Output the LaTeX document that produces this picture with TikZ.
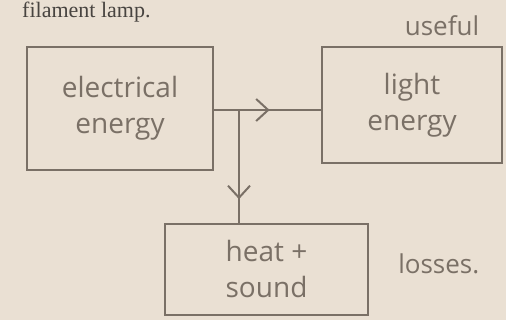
\documentclass[tikz,border=0pt]{standalone}
\usepackage{fontspec}
\setmainfont{Liberation Serif}
\newfontfamily\handfont{Open Sans}
\usepackage{xcolor}
\usetikzlibrary{arrows.meta,positioning,decorations.markings}

\definecolor{paper}{RGB}{234,224,211}
\definecolor{pencil}{RGB}{122,112,102}
\definecolor{print}{RGB}{72,68,64}

\begin{document}
\begin{tikzpicture}[
  x=1pt, y=-1pt,
  box/.style={
    draw=pencil, line width=2.2pt, inner sep=0pt, align=center,
    font=\fontsize{28}{36}\selectfont\handfont, text=pencil
  },
  note/.style={font=\fontsize{26}{36}\selectfont\handfont, text=pencil, inner sep=0pt},
  wire/.style={draw=pencil, line width=2.2pt},
  barb/.style={
    decoration={markings, mark=at position #1 with
      {\arrow[pencil, line width=2pt]{Straight Barb[length=12pt, width=22pt]}}},
    postaction=decorate
  }
]

% Paper
\useasboundingbox (0,0) rectangle (506,320);
\fill[paper] (0,0) rectangle (506,320);

% Printed line at the top
\node[anchor=base west, font=\fontsize{22}{24}\selectfont, text=print, inner sep=0pt] (caption) at (22,18) {filament lamp.};

% Input
\node[box, minimum width=186pt, minimum height=123pt] (elec) at (120,108.5) {electrical\\energy};

% Useful output
\node[box, minimum width=180pt, minimum height=116pt] (light) at (412,105) {light\\energy};

% Wasted output
\node[box, minimum width=203pt, minimum height=91pt] (heat) at (266.5,269.5) {heat +\\sound};

% Connecting Arrows
\coordinate (split) at (239,110);
\draw[wire, barb=0.52] (elec.east |- split) -- (light.west |- split);
\draw[wire, barb=0.79] (split) -- (split |- heat.north);

% Side notes
\node[note] (useful) at (442,26) {useful};
\node[note, right=29pt of heat, yshift=6pt] (losses) {losses.};

\end{tikzpicture}
\end{document}
